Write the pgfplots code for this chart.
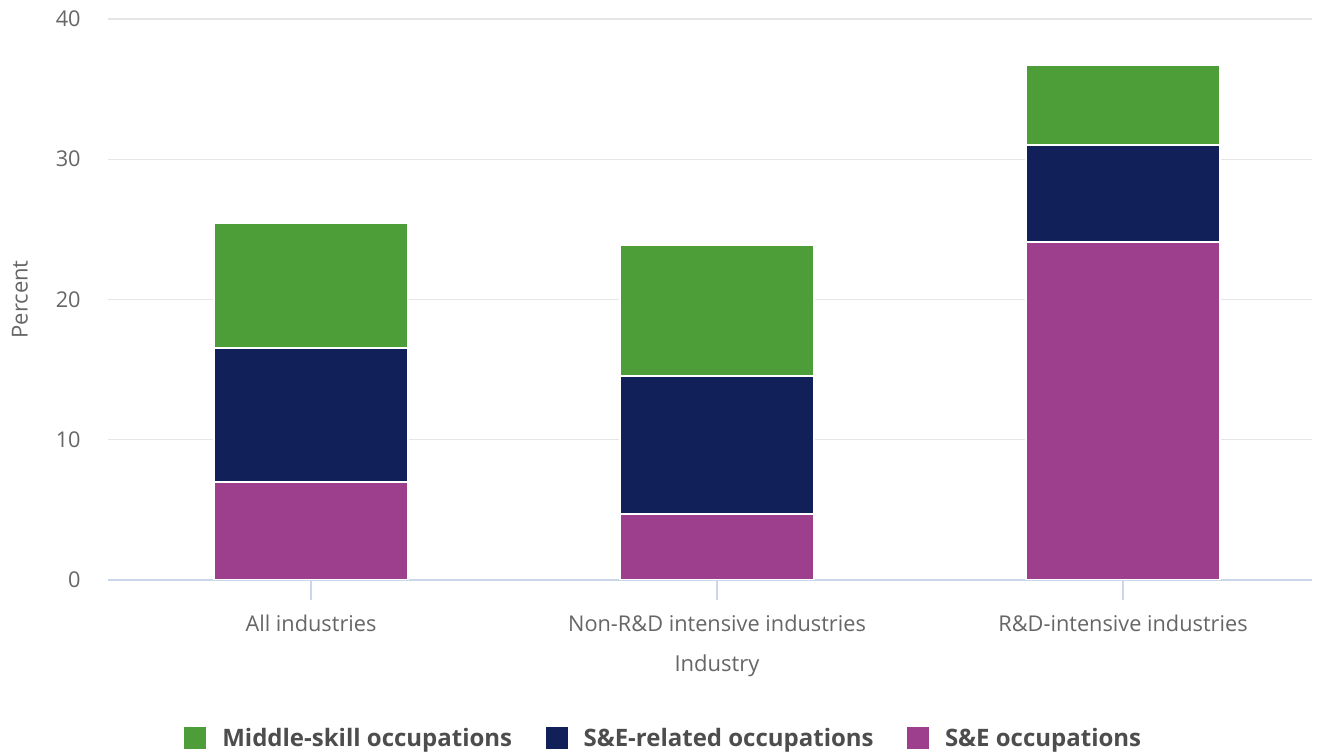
\documentclass[border=0pt]{standalone}
\usepackage{pgfplots}
\pgfplotsset{compat=1.18}
\usepackage{fontspec}
\setmainfont{Open Sans}
\definecolor{midgreen}{HTML}{4D9E39}
\definecolor{senavy}{HTML}{12205A}
\definecolor{sepurple}{HTML}{9E3F8E}
\definecolor{gridgray}{HTML}{E6E6E6}
\definecolor{axisblue}{HTML}{CCD6EB}
\definecolor{ticktext}{HTML}{666666}
\definecolor{legtext}{HTML}{4D4D4D}
\begin{document}
\begin{tikzpicture}
\useasboundingbox (-81pt,-131.25pt) rectangle (915pt,435pt);
\begin{axis}[
  anchor=south west, at={(0,0)},
  x=304.5pt, y=10.52pt,
  xmin=-0.5, xmax=2.466, ymin=0, ymax=40,
  ybar stacked, bar width=145.5pt,
  xtick={0,1,2},
  xticklabels={All industries, Non-R\&D intensive industries, R\&D-intensive industries},
  ytick={0,10,20,30,40},
  ymajorgrids, grid style={gridgray, line width=0.9pt},
  axis y line*=left, axis x line*=bottom,
  y axis line style={draw=none},
  x axis line style={axisblue, line width=1.2pt, -},
  xtick style={draw=axisblue, line width=1pt}, major tick length=15pt,
  tick align=outside,
  ytick style={draw=none},
  xticklabel style={font=\fontsize{16.3}{18}\selectfont, text=ticktext, yshift=-8pt},
  yticklabel style={font=\fontsize{16.3}{18}\selectfont, text=ticktext, xshift=-2pt},
  /pgf/number format/assume math mode=true,
  xlabel={Industry}, ylabel={Percent},
  every axis x label/.style={at={(axis cs:1,0)}, anchor=center, yshift=-64pt},
  every axis y label/.style={at={(axis description cs:0,0.5)}, rotate=90, anchor=center, yshift=66pt},
  xlabel style={font=\fontsize{16.5}{18}\selectfont, text=ticktext},
  ylabel style={font=\fontsize{16.5}{18}\selectfont, text=ticktext},
  legend columns=3, reverse legend,
  legend style={draw=none, at={(axis description cs:0.4618,-0.2816)}, anchor=center,
    font=\bfseries\fontsize{18}{20}\selectfont, text=legtext,
    /tikz/every odd column/.append style={column sep=10pt},
    /tikz/every even column/.append style={column sep=23pt}},
  legend image code/.code={\fill[#1, draw=none] (0pt,-8.25pt) rectangle (16.5pt,8.25pt);},
]
\addplot[fill=sepurple, draw=white, line width=1.2pt] coordinates {(0,6.99) (1,4.71) (2,24.10)};
\addplot[fill=senavy, draw=white, line width=1.2pt] coordinates {(0,9.55) (1,9.84) (2,6.92)};
\addplot[fill=midgreen, draw=white, line width=1.2pt] coordinates {(0,8.91) (1,9.34) (2,5.70)};
\legend{S\&E occupations, S\&E-related occupations, Middle-skill occupations}
\end{axis}
\end{tikzpicture}
\end{document}
